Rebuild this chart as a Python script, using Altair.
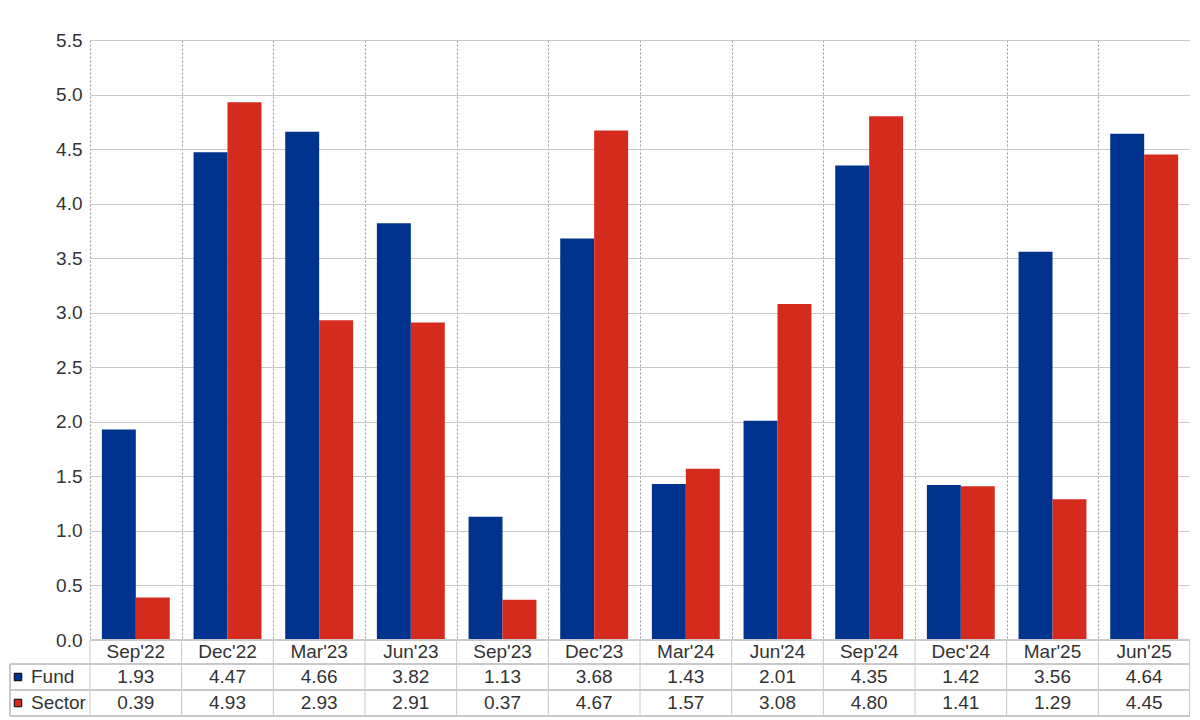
import altair as alt
import pandas as pd

categories = ["Sep'22", "Dec'22", "Mar'23", "Jun'23", "Sep'23", "Dec'23",
              "Mar'24", "Jun'24", "Sep'24", "Dec'24", "Mar'25", "Jun'25"]
fund = [1.93, 4.47, 4.66, 3.82, 1.13, 3.68, 1.43, 2.01, 4.35, 1.42, 3.56, 4.64]
sector = [0.39, 4.93, 2.93, 2.91, 0.37, 4.67, 1.57, 3.08, 4.80, 1.41, 1.29, 4.45]
series = ["Fund", "Sector"]
colors = ["#00338D", "#D52B1E"]
y_ticks = [0.0, 0.5, 1.0, 1.5, 2.0, 2.5, 3.0, 3.5, 4.0, 4.5, 5.0, 5.5]

W, H = 1100, 600
FONT = "Liberation Sans"
FS = 19
TXT = "#333333"
LINE = "#c8c8c8"

rows = []
for i, c in enumerate(categories):
    rows.append({"cat": c, "series": "Fund", "value": fund[i]})
    rows.append({"cat": c, "series": "Sector", "value": sector[i]})
df = pd.DataFrame(rows)
wide = pd.DataFrame({"cat": categories, "fund": fund, "sector": sector})

xscale = alt.Scale(domain=categories, paddingInner=0, paddingOuter=0)
xaxis = alt.Axis(title=None, labels=False, ticks=False, domain=False, grid=True,
                 tickBand="extent", gridDash=[2, 2], gridColor="#999999", gridWidth=1)
x = alt.X("cat:N", scale=xscale, sort=categories, axis=xaxis)

bars = alt.Chart(df).mark_bar().encode(
    x=x,
    xOffset=alt.XOffset("series:N", sort=series,
                        scale=alt.Scale(domain=series, paddingInner=0, paddingOuter=0.35)),
    y=alt.Y("value:Q", scale=alt.Scale(domain=[0, 5.5], nice=False, zero=True),
            axis=alt.Axis(values=y_ticks, format=".1f", title=None, domain=False, ticks=False,
                          labelPadding=8, labelFontSize=FS, labelColor=TXT,
                          gridColor=LINE, gridWidth=1)),
    color=alt.Color("series:N", scale=alt.Scale(domain=series, range=colors), legend=None),
)

base = alt.Chart(wide)
cat_text = base.mark_text(fontSize=FS, color=TXT, baseline="middle").encode(
    x=x, y=alt.value(H + 12), text="cat:N")
fund_text = base.mark_text(fontSize=FS, color=TXT, baseline="middle").encode(
    x=x, y=alt.value(H + 37), text=alt.Text("fund:Q", format=".2f"))
sector_text = base.mark_text(fontSize=FS, color=TXT, baseline="middle").encode(
    x=x, y=alt.value(H + 63), text=alt.Text("sector:Q", format=".2f"))

vlines = base.mark_rule(color=LINE, strokeWidth=1).encode(
    x=alt.X("cat:N", scale=xscale, sort=categories, axis=xaxis, bandPosition=0),
    y=alt.value(H), y2=alt.value(H + 76))
right_line = base.mark_rule(color=LINE, strokeWidth=1).encode(
    x=alt.value(W), y=alt.value(H), y2=alt.value(H + 76))
left_line = base.mark_rule(color=LINE, strokeWidth=1).encode(
    x=alt.value(-80), y=alt.value(H + 24), y2=alt.value(H + 76))
h0 = base.mark_rule(color=LINE, strokeWidth=1).encode(
    x=alt.value(0), x2=alt.value(W), y=alt.value(H))
h1 = base.mark_rule(color=LINE, strokeWidth=1).encode(
    x=alt.value(-80), x2=alt.value(W), y=alt.value(H + 24))
h2 = base.mark_rule(color=LINE, strokeWidth=1).encode(
    x=alt.value(-80), x2=alt.value(W), y=alt.value(H + 50))
h3 = base.mark_rule(color=LINE, strokeWidth=1).encode(
    x=alt.value(-80), x2=alt.value(W), y=alt.value(H + 76))

leg = pd.DataFrame({"series": series})
sq_fund = alt.Chart(leg.iloc[[0]]).mark_square(size=56, stroke="#000000", strokeWidth=1, opacity=1).encode(
    x=alt.value(-72), y=alt.value(H + 37), fill=alt.value(colors[0]))
sq_sector = alt.Chart(leg.iloc[[1]]).mark_square(size=56, stroke="#000000", strokeWidth=1, opacity=1).encode(
    x=alt.value(-72), y=alt.value(H + 63), fill=alt.value(colors[1]))
lab_fund = alt.Chart(leg.iloc[[0]]).mark_text(fontSize=FS, color=TXT, align="left", baseline="middle").encode(
    x=alt.value(-59), y=alt.value(H + 37), text="series:N")
lab_sector = alt.Chart(leg.iloc[[1]]).mark_text(fontSize=FS, color=TXT, align="left", baseline="middle").encode(
    x=alt.value(-59), y=alt.value(H + 63), text="series:N")

chart = alt.layer(
    bars, vlines, right_line, left_line, h0, h1, h2, h3,
    cat_text, fund_text, sector_text, sq_fund, sq_sector, lab_fund, lab_sector
).properties(
    width=W, height=H,
    autosize=alt.AutoSizeParams(type="none"),
    padding={"left": 82, "top": 32, "right": 0, "bottom": 77},
).configure(font=FONT).configure_view(stroke=None)

chart.save("out.html", embed_options={"renderer": "svg", "actions": False})
